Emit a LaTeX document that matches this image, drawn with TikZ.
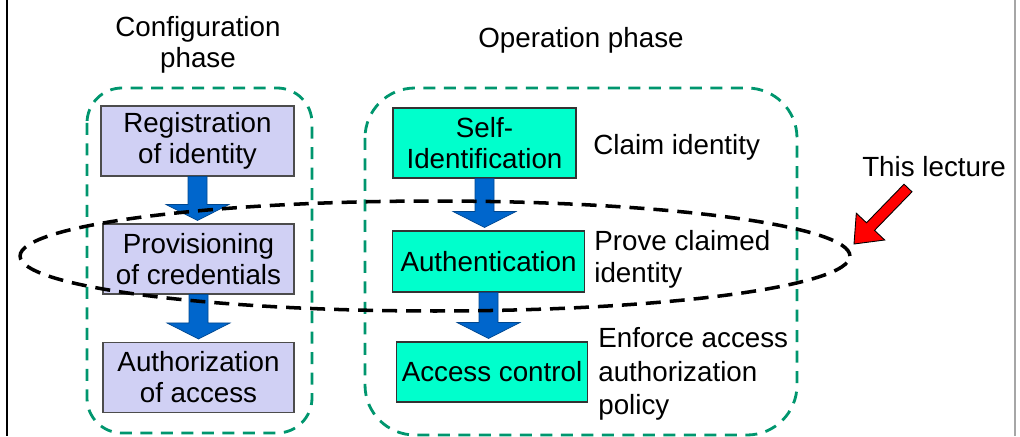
\documentclass[tikz,border=0pt]{standalone}
\usepackage{fontspec}
\setmainfont{Liberation Sans}
\usetikzlibrary{calc}
\definecolor{boxlavender}{RGB}{208,208,244}
\definecolor{boxcyan}{RGB}{0,255,204}
\definecolor{phasegreen}{RGB}{0,150,110}
\definecolor{arrowblue}{RGB}{0,102,204}
\definecolor{lecturered}{RGB}{255,0,0}
\tikzset{
	confbox/.style={draw=black!70, fill=boxlavender, line width=0.6pt, inner sep=0, align=center, minimum width=3.82cm, minimum height=1.4cm},
	operbox/.style={draw=black!80, fill=boxcyan, line width=0.6pt, inner sep=0, align=center, minimum width=3.83cm},
	phasebox/.style={draw=phasegreen, line width=1.6pt, dash pattern=on 0.24cm off 0.17cm},
	notetext/.style={inner sep=0, align=left, anchor=west},
	flowarrow/.style={fill=arrowblue, draw=arrowblue!70!black, line width=0.4pt}
}
\def\blockdown(#1)(#2){%
	\coordinate (bd-s) at (#1.south);
	\coordinate (bd-t) at (#1.south |- #2.north);
	\filldraw[flowarrow] ($(bd-s)+(-9.5,0)$) -- ($(bd-s)+(9.5,0)$) -- ($(bd-t)+(9.5,-19)$) -- ($(bd-t)+(31.5,-19)$) -- ($(bd-t)+(0,-3)$) -- ($(bd-t)+(-31.5,-19)$) -- ($(bd-t)+(-9.5,-19)$) -- cycle;}

\begin{document}
\begin{tikzpicture}[x=0.02cm, y=-0.02cm, font=\fontsize{15.8pt}{17.6pt}\selectfont]
	%%%%% START %%%%%
	\useasboundingbox (0,0) rectangle (1020,436);
	
	\draw[line width=0.04cm] (7,0) -- (7,436);
	\draw[line width=0.04cm, color=black!35] (1015,0) -- (1015,436);
	
	% phases
	\node[align=center] (conftitle) at (198,45) {Configuration\\phase};
	\node (opertitle) at (581,40) {Operation phase};
	\draw[phasebox, rounded corners=0.7cm] (87,88) rectangle (312,433);
	\draw[phasebox, rounded corners=1cm] (365,88) rectangle (797,435);
	
	% configuration
	\node[confbox, minimum width=3.86cm] (registration) at (197.5,141) {Registration\\of identity};
	\node[confbox] (provisioning) at (198.5,259) {Provisioning\\of credentials};
	\node[confbox] (authorization) at (198.5,377.5) {Authorization\\of access};
	\blockdown(registration)(provisioning)
	\blockdown(provisioning)(authorization)
	
	% operation
	\node[operbox, minimum width=3.66cm, minimum height=1.4cm] (selfid) at (484.5,143) {Self-\\Identification};
	\node[operbox, minimum height=1.22cm] (authentication) at (488.5,261.5) {Authentication};
	\node[operbox, minimum height=1.2cm] (accesscontrol) at (492,372) {Access control};
	\blockdown(selfid)(authentication)
	\blockdown(authentication)(accesscontrol)
	
	\node[notetext] (claim) at (593,147) {Claim identity};
	\node[notetext, font=\fontsize{15.8pt}{18.2pt}\selectfont] (prove) at (594,259) {Prove claimed\\identity};
	\node[notetext, font=\fontsize{15.8pt}{19pt}\selectfont] (enforce) at (598,374) {Enforce access\\authorization\\policy};
	
	% this lecture
	\draw[line width=2pt, dash pattern=on 0.3cm off 0.18cm] (435,256) ellipse [x radius=8.3cm, y radius=1.1cm];
	\node (lecture) at (934,167) {This lecture};
	\filldraw[fill=lecturered, draw=black, line width=0.5pt] (912,191.8) -- (904,184.2) -- (866.5,222.8) -- (856.3,213.2) -- (854,244) -- (884.7,240) -- (874.5,230.4) -- cycle;
	
	%%%%% END %%%%%
\end{tikzpicture}
\end{document}
